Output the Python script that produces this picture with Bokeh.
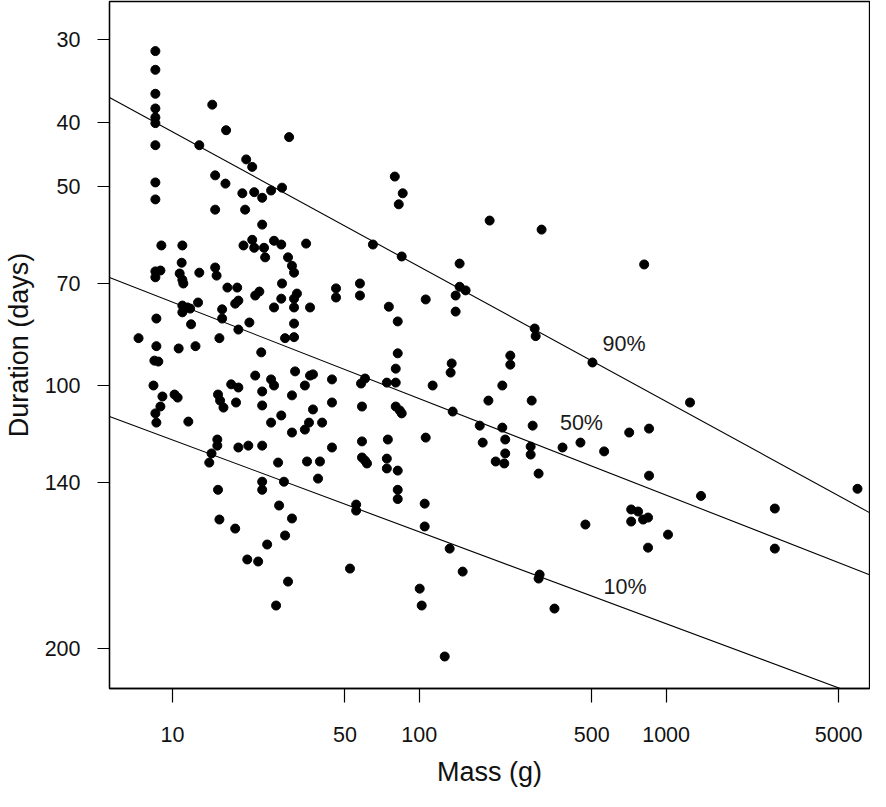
import numpy as np
from bokeh.plotting import figure
from bokeh.models import Range1d, FixedTicker
from bokeh.embed import file_html
from bokeh.resources import INLINE
from bokeh.core.properties import value

# ---- data ----
mass = [
    8.53, 8.53, 8.53, 8.53, 8.53, 8.53, 8.53, 8.53, 8.53, 14.5,
    16.5, 12.85, 29.7, 19.9, 21.05, 14.9, 16.4, 19.2, 21.45, 23.1,
    25.1, 27.8, 14.9, 19.7, 23.1, 9.02, 10.97, 19.4, 21.05, 21.45,
    23.5, 23.75, 25.8, 27.6, 34.8, 29.4, 30.5, 31.1, 27.8, 10.9,
    8.53, 8.94, 8.53, 10.7, 10.97, 11.07, 12.85, 14.9, 15.1, 16.7,
    18.3, 22.5, 21.65, 18.5, 17.96, 12.7, 10.97, 10.97, 11.5, 11.8,
    31.95, 31.1, 27.6, 25.8, 31.1, 36.1, 15.9, 15.9, 8.61, 11.9,
    20.5, 18.5, 31.1, 28.6, 31.1, 7.29, 8.61, 10.6, 12.4, 15.5,
    22.9, 8.45, 8.77, 21.65, 31.4, 36.1, 8.38, 9.11, 8.94, 8.53,
    8.61, 10.2, 10.5, 17.3, 18.5, 15.3, 15.6, 16.1, 18.1, 23.1,
    25.1, 25.8, 30.5, 34.4, 23.1, 27.6, 25.1, 11.6, 30.5, 34.4,
    35.75, 15.2, 15.2, 14.4, 14.1, 18.5, 20.3, 23.1, 26.8, 35.1,
    15.3, 23.1, 23.1, 28.3, 27.05, 15.5, 17.96, 30.5, 28.6, 24.2,
    20.1, 22.25, 29.4, 26.3, 79.6, 85.7, 82.6, 192.8, 64.9, 84.9,
    145.7, 145.7, 154.1, 140.4, 140.4, 46.0, 46.0, 57.5, 57.5, 75.3,
    106.2, 81.8, 81.8, 80.3, 80.3, 73.9, 135.3, 134.0, 113.3, 190.6,
    37.1, 44.3, 58.1, 60.3, 44.3, 58.6, 80.3, 83.4, 84.9, 136.6,
    175.8, 180.7, 37.1, 40.4, 44.3, 58.6, 74.6, 106.2, 204.0, 39.6,
    38.9, 58.6, 60.3, 61.4, 73.9, 73.9, 81.8, 81.8, 81.8, 55.5,
    55.5, 105.2, 105.2, 132.8, 52.4, 149.9, 100.4, 102.3, 126.8, 307.3,
    304.4, 313.0, 815.0, 293.5, 296.2, 233.8, 233.8, 217.0, 285.4, 503.0,
    1250.0, 217.0, 288.0, 223.0, 282.7, 282.7, 223.0, 221.0, 304.4, 380.5,
    449.8, 561.0, 708.7, 853.0, 853.0, 722.0, 770.0, 722.0, 807.0, 845.0,
    471.0, 1018.0, 845.0, 353.0, 1385.0, 2757.0, 5961.0, 2757.0,
]
duration = [
    31.2, 33.3, 36.2, 38.1, 39.3, 40.1, 43.3, 49.3, 52.3, 37.6,
    41.1, 43.3, 42.1, 45.5, 46.7, 48.1, 49.5, 51.2, 51.0, 52.0,
    50.7, 50.2, 54.2, 54.2, 57.1, 61.4, 61.4, 61.4, 60.2, 61.9,
    61.9, 64.0, 60.4, 61.2, 61.0, 64.0, 65.9, 67.5, 70.1, 65.2,
    67.2, 67.0, 68.6, 67.7, 69.2, 70.1, 67.5, 66.3, 68.2, 71.1,
    71.1, 72.1, 73.1, 74.4, 75.2, 74.9, 75.7, 77.5, 76.2, 76.5,
    72.6, 73.9, 73.9, 76.2, 76.2, 76.2, 76.7, 79.2, 79.2, 80.8,
    80.3, 82.3, 80.6, 84.8, 84.5, 84.8, 87.2, 87.9, 87.2, 84.8,
    89.1, 91.7, 92.0, 96.6, 95.2, 96.6, 100.0, 103.9, 107.6, 110.2,
    113.8, 103.2, 104.3, 99.6, 100.7, 103.2, 105.4, 108.0, 106.1, 102.1,
    97.9, 100.0, 103.5, 100.0, 107.2, 111.0, 113.8, 113.4, 117.8, 116.6,
    113.8, 120.7, 123.3, 126.7, 130.8, 124.1, 123.3, 123.3, 130.8, 130.3,
    143.8, 139.8, 143.8, 139.8, 151.9, 159.5, 164.6, 158.9, 168.6, 174.0,
    183.3, 184.6, 198.0, 215.2, 48.3, 51.2, 53.2, 56.3, 61.2, 63.8,
    65.4, 70.9, 71.8, 73.1, 77.3, 71.3, 73.6, 70.1, 73.1, 76.0,
    74.1, 80.0, 89.4, 94.3, 99.0, 99.0, 92.6, 95.6, 100.0, 105.4,
    96.2, 97.9, 99.3, 97.6, 106.1, 107.6, 107.6, 109.1, 110.2, 109.5,
    115.0, 122.0, 108.7, 113.8, 124.1, 121.5, 120.7, 119.9, 130.3, 130.3,
    138.3, 128.5, 129.9, 131.2, 129.0, 133.5, 134.5, 143.8, 148.5, 151.4,
    154.6, 150.9, 163.4, 176.5, 189.2, 191.2, 202.9, 215.2, 257.0, 193.2,
    195.9, 58.1, 65.6, 82.0, 84.2, 90.1, 93.0, 100.0, 105.4, 92.3,
    106.1, 115.8, 115.0, 120.7, 123.7, 127.2, 126.7, 131.2, 135.9, 124.1,
    122.0, 125.8, 117.8, 116.2, 136.9, 154.0, 155.1, 160.6, 159.5, 158.4,
    162.3, 168.1, 175.9, 217.5, 146.9, 153.5, 143.3, 176.5,
]

# quantile regression lines: log10(duration) = intercept + slope * log10(mass)
QUANTILES = ["90%", "50%", "10%"]
INTERCEPTS = [1.4122, 1.7278, 1.9433]
SLOPES = [0.204, 0.146, 0.139]
LABEL_MASS = [676, 454, 682]
LABEL_DURATION = [86.4, 113.8, 202.0]

X_TICKS = [10, 50, 100, 500, 1000, 5000]
X_TICK_LABELS = ["10", "50", "100", "500", "1000", "5000"]
Y_TICKS = [30, 40, 50, 70, 100, 140, 250]
Y_TICK_LABELS = ["30", "40", "50", "70", "100", "140", "200"]

X_RANGE = (5.56, 6668.0)
Y_RANGE = (287.3, 26.25)   # reversed: long durations at the bottom

FONT = "Liberation Sans"

p = figure(width=870, height=791,
           x_axis_type="log", y_axis_type="log",
           x_range=Range1d(*X_RANGE), y_range=Range1d(*Y_RANGE),
           output_backend="svg", toolbar_location=None,
           min_border_left=107, min_border_right=1,
           min_border_top=1, min_border_bottom=103,
           x_axis_label="Mass (g)", y_axis_label="Duration (days)")

p.background_fill_color = "white"
p.border_fill_color = "white"
p.outline_line_color = "black"
p.outline_line_width = 1.3
p.xgrid.visible = False
p.ygrid.visible = False

# regression lines across the whole plotting region
xs_line = np.array(X_RANGE)
for a, b in zip(INTERCEPTS, SLOPES):
    ys_line = 10 ** (a + b * np.log10(xs_line))
    p.line(xs_line, ys_line, line_color="black", line_width=1.1)

p.scatter(mass, duration, marker="circle", size=9,
          fill_color="black", line_color="black")

p.text(x=LABEL_MASS, y=LABEL_DURATION, text=QUANTILES,
       text_align="center", text_baseline="middle",
       text_font=value(FONT), text_font_size=value("21.5px"),
       text_color="#1a1a1a")

p.xaxis.ticker = FixedTicker(ticks=X_TICKS, minor_ticks=[])
p.yaxis.ticker = FixedTicker(ticks=Y_TICKS, minor_ticks=[])
p.xaxis.major_label_overrides = dict(zip(X_TICKS, X_TICK_LABELS))
p.yaxis.major_label_overrides = dict(zip(Y_TICKS, Y_TICK_LABELS))

for ax in (p.xaxis[0], p.yaxis[0]):
    ax.axis_line_color = "black"
    ax.axis_line_width = 1.3
    ax.major_tick_in = 0
    ax.major_tick_line_color = "black"
    ax.major_tick_line_width = 1.2
    ax.minor_tick_line_color = None
    ax.major_label_text_font = FONT
    ax.major_label_text_font_size = "21.5px"
    ax.major_label_text_color = "#111111"
    ax.axis_label_text_font = FONT
    ax.axis_label_text_font_size = "27px"
    ax.axis_label_text_font_style = "normal"
    ax.axis_label_text_color = "#111111"

p.xaxis.major_tick_out = 14
p.yaxis.major_tick_out = 12
p.xaxis.major_label_standoff = 24
p.yaxis.major_label_standoff = 17
p.yaxis.major_label_orientation = "horizontal"
p.xaxis.axis_label_standoff = 12
p.yaxis.axis_label_standoff = 8

open("out.html", "w").write(file_html(p, INLINE))
